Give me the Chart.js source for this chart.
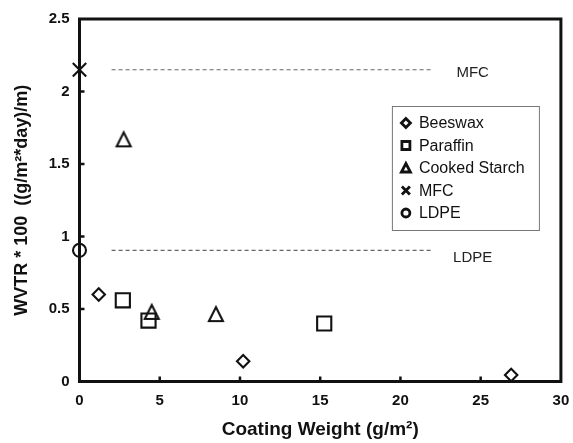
<!DOCTYPE html>
<html><head><meta charset="utf-8">
<script src="https://cdn.jsdelivr.net/npm/chart.js@4.4.1/dist/chart.umd.min.js"></script>
<style>html,body{margin:0;padding:0;background:#fff;} canvas{display:block;}</style>
</head><body>
<canvas id="c" width="573" height="443"></canvas>
<script>
// ---- data ----
const seriesNames = ['Beeswax', 'Paraffin', 'Cooked Starch', 'MFC', 'LDPE'];
const beeswaxX = [1.2, 10.2, 26.9];
const beeswaxY = [0.60, 0.14, 0.045];
const paraffinX = [2.7, 4.3, 15.25];
const paraffinY = [0.56, 0.42, 0.40];
const starchX = [2.75, 4.5, 8.5];
const starchY = [1.67, 0.48, 0.465];
const mfcX = [0];
const mfcY = [2.15];
const ldpeX = [0];
const ldpeY = [0.905];
const refLineX = [2, 22];
const mfcRefY = [2.15, 2.15];
const ldpeRefY = [0.905, 0.905];
const refLabels = ['MFC', 'LDPE'];
const refLabelX = [24.5, 24.5];
const refLabelY = [2.13, 0.85];
const xTickValues = [0, 5, 10, 15, 20, 25, 30];
const yTickValues = [0, 0.5, 1, 1.5, 2, 2.5];
const xTitle = 'Coating Weight (g/m²)';
const yTitle = 'WVTR * 100  ((g/m²*day)/m)';

const pts = (xs, ys) => xs.map((x, i) => ({x: x, y: ys[i]}));

function triCanvas(w, h, lw) {
  const c = document.createElement('canvas');
  const pad = Math.ceil(lw) + 2;
  c.width = w + 2 * pad; c.height = h + 2 * pad;
  const g = c.getContext('2d');
  g.strokeStyle = '#111'; g.lineWidth = lw;
  g.beginPath();
  g.moveTo(pad + w / 2, pad);
  g.lineTo(pad + w, pad + h);
  g.lineTo(pad, pad + h);
  g.closePath(); g.stroke();
  return c;
}
const triImg = triCanvas(14, 14, 2.1);

const INK = '#111';
const FONT = "'Liberation Sans', Arial, sans-serif";

const framePlugin = {
  id: 'frame',
  beforeDatasetsDraw(chart) {
    const {ctx, chartArea: a, scales} = chart;
    ctx.save();
    ctx.strokeStyle = INK; ctx.lineWidth = 3;
    ctx.strokeRect(a.left, a.top, a.right - a.left, a.bottom - a.top);
    // inward tick marks
    ctx.lineWidth = 2.5;
    ctx.beginPath();
    scales.x.ticks.forEach(t => {
      if (t.value <= scales.x.min || t.value >= scales.x.max) return;
      const px = scales.x.getPixelForValue(t.value);
      ctx.moveTo(px, a.bottom); ctx.lineTo(px, a.bottom - 5);
    });
    scales.y.ticks.forEach(t => {
      if (t.value <= scales.y.min || t.value >= scales.y.max) return;
      const py = scales.y.getPixelForValue(t.value);
      ctx.moveTo(a.left, py); ctx.lineTo(a.left + 5, py);
    });
    ctx.stroke();
    // reference labels
    ctx.fillStyle = '#222';
    ctx.font = "15px " + FONT;
    ctx.textAlign = 'center'; ctx.textBaseline = 'middle';
    refLabels.forEach((t, i) => {
      ctx.fillText(t, scales.x.getPixelForValue(refLabelX[i]), scales.y.getPixelForValue(refLabelY[i]));
    });
    ctx.restore();
  },
  afterDraw(chart) {
    const {ctx, chartArea: a} = chart;
    const bx = a.right - 169, by = a.top + 87, bw = 147, bh = 124;
    ctx.save();
    ctx.fillStyle = '#fff';
    ctx.fillRect(bx, by, bw, bh);
    ctx.strokeStyle = '#777'; ctx.lineWidth = 1;
    ctx.strokeRect(bx + 0.5, by + 0.5, bw, bh);
    ctx.font = "16px " + FONT;
    ctx.textAlign = 'left'; ctx.textBaseline = 'middle';
    const styles = ['diamond', 'square', 'triangle', 'x', 'circle'];
    seriesNames.forEach((name, i) => {
      const cy = by + 17 + i * 22.5;
      const cx = bx + 14;
      ctx.strokeStyle = INK; ctx.lineWidth = 2.8;
      ctx.beginPath();
      const s = styles[i];
      if (s === 'diamond') { ctx.moveTo(cx, cy - 4.5); ctx.lineTo(cx + 4.5, cy); ctx.lineTo(cx, cy + 4.5); ctx.lineTo(cx - 4.5, cy); ctx.closePath(); }
      else if (s === 'square') { ctx.rect(cx - 4, cy - 4, 8, 8); }
      else if (s === 'triangle') { ctx.moveTo(cx, cy - 4.5); ctx.lineTo(cx + 4.5, cy + 4); ctx.lineTo(cx - 4.5, cy + 4); ctx.closePath(); }
      else if (s === 'x') { ctx.moveTo(cx - 4, cy - 4); ctx.lineTo(cx + 4, cy + 4); ctx.moveTo(cx + 4, cy - 4); ctx.lineTo(cx - 4, cy + 4); }
      else { ctx.arc(cx, cy, 4, 0, Math.PI * 2); }
      ctx.stroke();
      ctx.fillStyle = INK;
      ctx.fillText(name, bx + 27, cy + 1);
    });
    ctx.restore();
  }
};

const markerBase = {backgroundColor: 'rgba(0,0,0,0)', borderColor: INK, borderWidth: 2.1, showLine: false, clip: false};

new Chart(document.getElementById('c'), {
  type: 'scatter',
  data: {
    datasets: [
      Object.assign({label: seriesNames[0], data: pts(beeswaxX, beeswaxY), pointStyle: 'rectRot', pointRadius: 6.2}, markerBase),
      Object.assign({label: seriesNames[1], data: pts(paraffinX, paraffinY), pointStyle: 'rect', pointRadius: 10}, markerBase),
      Object.assign({label: seriesNames[2], data: pts(starchX, starchY), pointStyle: triImg, pointRadius: 8}, markerBase),
      Object.assign({label: seriesNames[3], data: pts(mfcX, mfcY), pointStyle: 'crossRot', pointRadius: 9.5}, markerBase),
      Object.assign({label: seriesNames[4], data: pts(ldpeX, ldpeY), pointStyle: 'circle', pointRadius: 6.5}, markerBase),
      {label: 'MFC ref', data: pts(refLineX, mfcRefY), showLine: true, borderColor: '#666', borderWidth: 1.2, borderDash: [4, 3], pointRadius: 0, fill: false},
      {label: 'LDPE ref', data: pts(refLineX, ldpeRefY), showLine: true, borderColor: '#666', borderWidth: 1.2, borderDash: [4, 3], pointRadius: 0, fill: false}
    ]
  },
  options: {
    responsive: false,
    animation: false,
    devicePixelRatio: 1,
    layout: {padding: {top: 16.5, right: 12, left: 0, bottom: 0}},
    plugins: {legend: {display: false}, tooltip: {enabled: false}},
    scales: {
      x: {
        type: 'linear', min: 0, max: 30,
        afterBuildTicks: s => { s.ticks = xTickValues.map(v => ({value: v})); },
        afterFit: s => { s.height = 61.5; s.paddingLeft = 0; s.paddingRight = 0; },
        grid: {display: false, drawTicks: false},
        border: {display: false},
        ticks: {color: INK, padding: 10, callback: v => String(v), font: {family: FONT, size: 15, weight: 'bold'}},
        title: {display: true, text: xTitle, color: INK, padding: {top: 0, bottom: 2}, font: {family: FONT, size: 19, weight: 'bold'}}
      },
      y: {
        type: 'linear', min: 0, max: 2.5,
        afterBuildTicks: s => { s.ticks = yTickValues.map(v => ({value: v})); },
        afterFit: s => { s.width = 79.5; },
        grid: {display: false, drawTicks: false},
        border: {display: false},
        ticks: {color: INK, padding: 10, callback: v => String(v), font: {family: FONT, size: 15, weight: 'bold'}},
        title: {display: true, text: yTitle, color: INK, padding: {top: 11, bottom: 0}, font: {family: FONT, size: 18, weight: 'bold'}}
      }
    }
  },
  plugins: [framePlugin]
});
</script>
</body></html>
